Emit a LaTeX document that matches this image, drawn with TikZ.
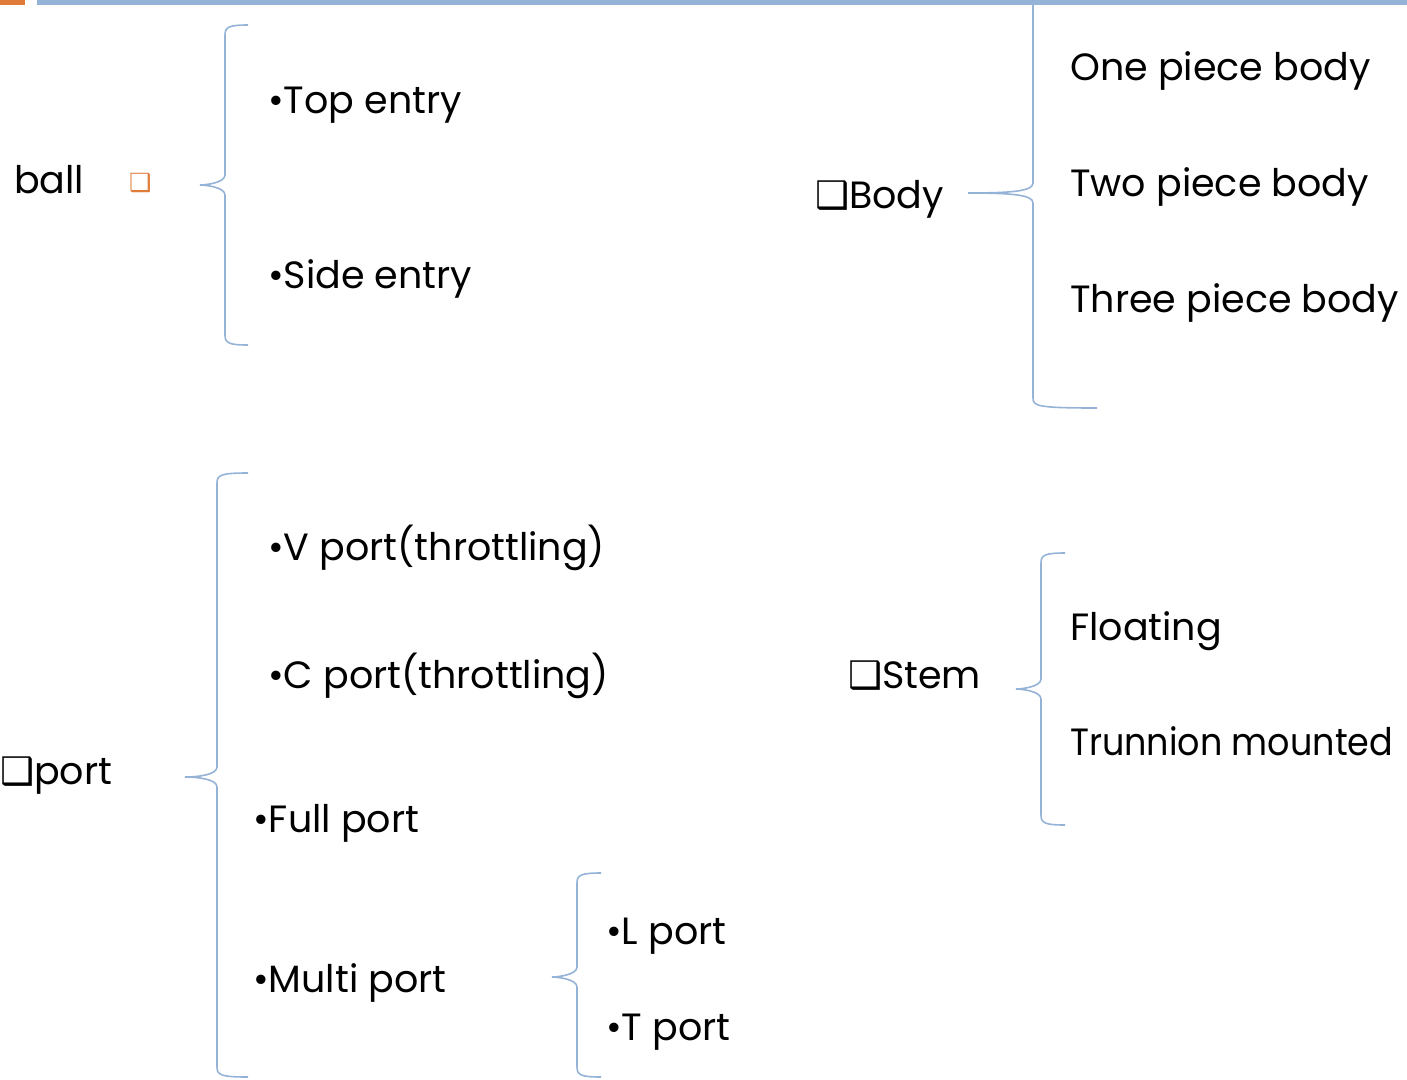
\documentclass[tikz,border=0pt]{standalone}
\usepackage{fontspec}
\setmainfont{Poppins}
\newfontfamily\symfont{DejaVu Sans}[BoldFont=DejaVu Sans Bold]
\usetikzlibrary{positioning}
\definecolor{sBlue}{HTML}{95B3D7}
\definecolor{sOrange}{HTML}{E07B39}

\tikzset{
  item/.style={anchor=base west, inner sep=0pt, font=\fontsize{38}{46}\selectfont},
  brace/.style={draw=sBlue, line width=1.6pt},
}
% tip x, tip y, line x, top y, bottom y, arm x
\newcommand\sortbrace[6]{%
  \draw[brace] (#6,#4) .. controls (#3+4,#4) and (#3,#4+2) .. (#3,#4+10)
    -- (#3,#2-10) .. controls (#3,#2-2) and (#3-20,#2) .. (#1,#2)
    .. controls (#3-20,#2) and (#3,#2+2) .. (#3,#2+10)
    -- (#3,#5-10) .. controls (#3,#5-2) and (#3+4,#5) .. (#6,#5);}
\newcommand\boxmark{{\symfont\bfseries ❑}}

\begin{document}
\begin{tikzpicture}[x=1pt, y=-1pt]
  \useasboundingbox (0,0) rectangle (1407,1079);

  % ball
  \node[item] (ball) at (14,193) {ball};
  \node[anchor=base west, inner sep=0pt, text=sOrange, font=\symfont\bfseries\fontsize{25}{30}\selectfont] (ballmark) at (129,191) {❑};
  \sortbrace{200}{185}{225}{25}{345}{248}
  \node[item] (topentry) at (268,113) {•Top entry};
  \node[item] (sideentry) at (268,288) {•Side entry};

  % body
  \node[item] (body) at (815,208) {\boxmark Body};
  \sortbrace{968}{193}{1033}{-20}{408}{1097}
  \node[item] (onepiece) at (1070,80) {One piece body};
  \node[item] (twopiece) at (1070,196) {Two piece body};
  \node[item] (threepiece) at (1070,312) {Three piece body};

  % port
  \node[item] (port) at (0,784) {\boxmark port};
  \sortbrace{185}{777}{217}{473}{1077}{248}
  \node[item] (vport) at (268,560) {•V port(throttling)};
  \node[item] (cport) at (268,688) {•C port(throttling)};
  \node[item] (fullport) at (253,832) {•Full port};
  \node[item] (multiport) at (253,992) {•Multi port};
  \sortbrace{552}{977}{577}{873}{1077}{601}
  \node[item] (lport) at (606,944) {•L port};
  \node[item] (tport) at (606,1040) {•T port};

  % stem
  \node[item] (stem) at (848,688) {\boxmark Stem};
  \sortbrace{1016}{689}{1041}{553}{825}{1065}
  \node[item] (floating) at (1070,640) {Floating};
  \node[item] (trunnion) at (1070,755) {\scalebox{0.92}[1]{Trunnion mounted}};

  % top rule
  \fill[sOrange] (0,0) rectangle (25,5);
  \fill[sBlue] (37,0) rectangle (1407,5);
\end{tikzpicture}
\end{document}
